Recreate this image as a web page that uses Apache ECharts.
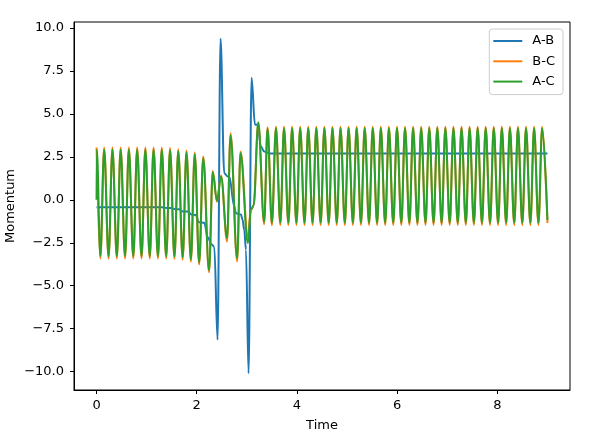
<!DOCTYPE html>
<html>
<head>
<meta charset="utf-8">
<script src="https://cdn.jsdelivr.net/npm/echarts@6/dist/echarts.min.js"></script>
<style>html,body{margin:0;padding:0;background:#fff}#c{width:603px;height:439px}</style>
</head>
<body>
<div id="c"></div>
<script>
// Shared sample times of the B-C and A-C curves (turning points)
const oscTime = [
  0.000, 0.006, 0.076, 0.152, 0.240, 0.317, 0.405, 0.481, 0.569, 0.645, 0.733, 0.810, 0.898, 0.974, 1.062,
  1.138, 1.226, 1.302, 1.390, 1.467, 1.555, 1.631, 1.719, 1.795, 1.883, 1.960, 2.048, 2.130, 2.245, 2.320,
  2.403, 2.485, 2.605, 2.675, 2.806, 2.874, 3.020, 3.080, 3.135, 3.228, 3.345, 3.413, 3.500,
  3.581, 3.668, 3.742, 3.829, 3.903, 3.990, 4.064, 4.151, 4.225, 4.312, 4.386, 4.473, 4.547, 4.634,
  4.708, 4.795, 4.869, 4.956, 5.030, 5.117, 5.191, 5.278, 5.352, 5.439, 5.513, 5.600, 5.674, 5.761,
  5.835, 5.922, 5.996, 6.083, 6.157, 6.244, 6.318, 6.405, 6.479, 6.566, 6.640, 6.727, 6.801, 6.888,
  6.962, 7.049, 7.123, 7.210, 7.284, 7.371, 7.445, 7.532, 7.606, 7.693, 7.767, 7.854, 7.928, 8.015,
  8.089, 8.176, 8.250, 8.337, 8.411, 8.498, 8.572, 8.659, 8.733, 8.820, 8.894, 9.000
];
const bcValues = [
  3.05, 3.05, -3.42, 3.05, -3.42, 3.05, -3.42, 3.05, -3.42, 3.05, -3.42, 3.05, -3.42, 3.05, -3.42,
  3.05, -3.42, 3.05, -3.42, 3.02, -3.43, 2.95, -3.48, 2.87, -3.60, 2.76, -3.77, 2.52, -4.22, 1.67,
  -0.12, 1.42, -2.43, 3.88, -3.59, 2.81, -2.14, -0.60, -0.32, 4.45, -1.42, 4.23, -1.48,
  4.25, -1.47, 4.25, -1.47, 4.25, -1.47, 4.25, -1.47, 4.25, -1.47, 4.25, -1.47, 4.25, -1.47,
  4.25, -1.47, 4.25, -1.47, 4.25, -1.47, 4.25, -1.47, 4.25, -1.47, 4.25, -1.47, 4.25, -1.47,
  4.25, -1.47, 4.25, -1.47, 4.25, -1.47, 4.25, -1.47, 4.25, -1.47, 4.25, -1.47, 4.25, -1.47,
  4.25, -1.47, 4.25, -1.47, 4.25, -1.47, 4.25, -1.47, 4.25, -1.47, 4.25, -1.47, 4.25, -1.47,
  4.25, -1.47, 4.25, -1.47, 4.25, -1.47, 4.25, -1.47, 4.25, -1.47, 4.25, -1.35
];
const acValues = [
  0.00, 2.92, -3.28, 2.92, -3.28, 2.92, -3.28, 2.92, -3.28, 2.92, -3.28, 2.92, -3.28, 2.92, -3.28,
  2.92, -3.28, 2.92, -3.28, 2.89, -3.30, 2.83, -3.35, 2.76, -3.47, 2.65, -3.65, 2.42, -4.10, 1.60,
  -0.05, 1.36, -2.23, 3.75, -3.40, 2.72, -2.52, -0.60, -0.35, 4.52, -1.30, 4.13, -1.34,
  4.17, -1.33, 4.17, -1.33, 4.17, -1.33, 4.17, -1.33, 4.17, -1.33, 4.17, -1.33, 4.17, -1.33,
  4.17, -1.33, 4.17, -1.33, 4.17, -1.33, 4.17, -1.33, 4.17, -1.33, 4.17, -1.33, 4.17, -1.33,
  4.17, -1.33, 4.17, -1.33, 4.17, -1.33, 4.17, -1.33, 4.17, -1.33, 4.17, -1.33, 4.17, -1.33,
  4.17, -1.33, 4.17, -1.33, 4.17, -1.33, 4.17, -1.33, 4.17, -1.33, 4.17, -1.33, 4.17, -1.33,
  4.17, -1.33, 4.17, -1.33, 4.17, -1.33, 4.17, -1.33, 4.17, -1.33, 4.17, -1.18
];
// A-B curve
const abTime = [0, 0.5, 1.0, 1.3, 1.4, 1.5, 1.55, 1.65, 1.72, 1.82, 1.9, 1.98, 2.04, 2.15, 2.22, 2.3, 2.35,
  2.415, 2.475, 2.549, 2.615, 2.649, 2.749, 2.782, 2.882, 2.914, 2.948, 2.982, 3.034, 3.094, 3.162, 3.214,
  3.281, 3.347, 3.447, 3.547, 9.0];
const abValues = [-0.44, -0.43, -0.43, -0.44, -0.47, -0.47, -0.54, -0.55, -0.68, -0.68, -0.87, -0.88, -1.30,
  -1.33, -2.20, -2.60, -2.75, -8.15, 9.38, 1.55, 1.36, 1.36, -0.39, -0.78, -0.85, -1.16, -1.75, -2.90, -10.10,
  7.10, 4.37, 4.37, 3.10, 2.81, 2.70, 2.70, 2.70];

const seriesNames = ['A-B', 'B-C', 'A-C'];
const seriesColors = ['#1f77b4', '#ff7f0e', '#2ca02c'];
const xTicks = [0, 2, 4, 6, 8];
const yTicks = [-10, -7.5, -5, -2.5, 0, 2.5, 5, 7.5, 10];

const zip = (xs, ys) => xs.map((x, i) => [x, ys[i]]);
const fmtY = v => (v < 0 ? '\u2212' : '') + Math.abs(v).toFixed(1);
const font = 'DejaVu Sans';
const fs = 13;

const chart = echarts.init(document.getElementById('c'), null, {renderer: 'canvas'});
const mkSeries = (name, color, data) => ({
  name, type: 'line', data, showSymbol: false, symbol: 'none',
  smooth: 0.36, smoothMonotone: 'x',
  lineStyle: {color, width: 2}, itemStyle: {color},
  animation: false
});
chart.setOption({
  animation: false,
  color: seriesColors,
  grid: {left: 74, right: 33, top: 22, bottom: 49, containLabel: false, outerBoundsMode: 'none',
    show: true, borderColor: '#000', borderWidth: 1, backgroundColor: 'transparent'},
  legend: {
    data: seriesNames, orient: 'vertical', right: 40, top: 29,
    icon: 'rect', itemWidth: 29, itemHeight: 2, itemGap: 6.3,
    padding: [5, 8, 6, 4],
    backgroundColor: 'rgba(255,255,255,0.8)', borderColor: '#cccccc', borderWidth: 1, borderRadius: 3,
    textStyle: {fontFamily: font, fontSize: fs, color: '#000', lineHeight: 14, padding: [0, 0, 0, 5]}
  },
  xAxis: {
    type: 'value', min: -0.45, max: 9.45,
    name: 'Time', nameLocation: 'middle', nameGap: 29, nameMoveOverlap: false,
    nameTextStyle: {fontFamily: font, fontSize: fs, color: '#000'},
    axisLine: {show: true, onZero: false, lineStyle: {color: '#000', width: 1}},
    axisTick: {show: true, inside: false, length: 4, customValues: xTicks, lineStyle: {color: '#000'}},
    axisLabel: {customValues: xTicks, color: '#000', fontFamily: font, fontSize: fs, margin: 9, formatter: v => String(v)},
    splitLine: {show: false}
  },
  yAxis: {
    type: 'value', min: -11.07, max: 10.35,
    name: 'Momentum', nameLocation: 'middle', nameGap: 57, nameMoveOverlap: false,
    nameTextStyle: {fontFamily: font, fontSize: fs, color: '#000'},
    axisLine: {show: true, onZero: false, lineStyle: {color: '#000', width: 1}},
    axisTick: {show: true, inside: false, length: 4, customValues: yTicks, lineStyle: {color: '#000'}},
    axisLabel: {customValues: yTicks, color: '#000', fontFamily: font, fontSize: fs, margin: 10, formatter: fmtY},
    splitLine: {show: false}
  },
  series: [
    mkSeries(seriesNames[0], seriesColors[0], zip(abTime, abValues)),
    mkSeries(seriesNames[1], seriesColors[1], zip(oscTime, bcValues)),
    mkSeries(seriesNames[2], seriesColors[2], zip(oscTime, acValues))
  ]
});
</script>
</body>
</html>
